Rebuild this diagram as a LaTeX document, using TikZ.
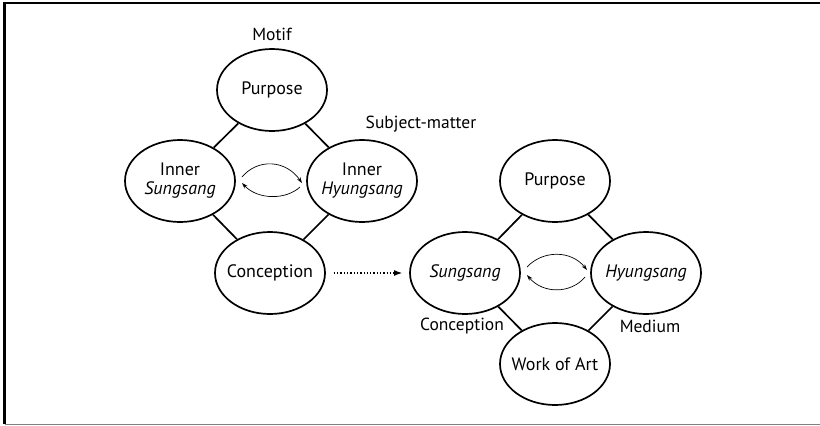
\documentclass[tikz,border=0pt]{standalone}
\usepackage{fontspec}
\setmainfont{PT Sans}
\usetikzlibrary{shapes.geometric,arrows.meta}
\begin{document}
\begin{tikzpicture}[x=1pt,y=-1pt,
  oval/.style={draw,ellipse,line width=1.7pt,minimum width=110pt,minimum height=82pt,inner xsep=-16pt,inner ysep=0pt,align=center,font=\fontsize{18}{19}\selectfont},
  lbl/.style={font=\fontsize{17.5}{19}\selectfont,inner sep=0pt},
  link/.style={line width=1.7pt},
  swap/.style={line width=0.7pt,-{Stealth[length=6pt,width=4pt]}}]
\useasboundingbox (0,0) rectangle (820,426);
\draw[line width=2.2pt] (4.5,424) -- (4.5,3) -- (820,3);
\draw[line width=1.5pt,gray] (4.5,424.5) -- (820,424.5);
% left diamond
\node[oval] (p1) at (272,90) {Purpose};
\node[oval] (s1) at (180,181) {Inner\\\textit{Sungsang}};
\node[oval] (h1) at (362,181) {Inner\\\textit{Hyungsang}};
\node[oval] (c1) at (270,273) {Conception};
\node[lbl] (motif) at (272,34) {Motif};
\node[lbl] (subj) at (421,124) {Subject-matter};
\draw[link] (p1) -- (s1);
\draw[link] (p1) -- (h1);
\draw[link] (s1) -- (c1);
\draw[link] (h1) -- (c1);
% right diamond
\node[oval] (p2) at (555,181) {Purpose};
\node[oval] (s2) at (465,273) {\textit{Sungsang}};
\node[oval] (h2) at (646,273) {\textit{Hyungsang}};
\node[oval] (w2) at (555,364) {Work of Art};
\node[lbl] (conc) at (462,326) {Conception};
\node[lbl] (med) at (650,326) {Medium};
\draw[link] (p2) -- (s2);
\draw[link] (p2) -- (h2);
\draw[link] (s2) -- (w2);
\draw[link] (h2) -- (w2);
% swap arrows
\coordinate (a1) at (242,177);
\coordinate (a2) at (302,183);
\coordinate (a3) at (300,187);
\coordinate (a4) at (242,183);
\draw[swap] (a1) .. controls (258,158) and (286,160) .. (a2);
\draw[swap] (a3) .. controls (286,200) and (258,200) .. (a4);
\coordinate (b1) at (527,267);
\coordinate (b2) at (587,270);
\coordinate (b3) at (585,277);
\coordinate (b4) at (527,275);
\draw[swap] (b1) .. controls (543,250) and (571,250) .. (b2);
\draw[swap] (b3) .. controls (571,294) and (543,294) .. (b4);
% dotted arrow
\draw[line width=1.3pt,dotted,-{Latex[length=8pt,width=6pt]}] (c1.east) ++(8,0) -- ([xshift=-7pt]s2.west);
\end{tikzpicture}
\end{document}
